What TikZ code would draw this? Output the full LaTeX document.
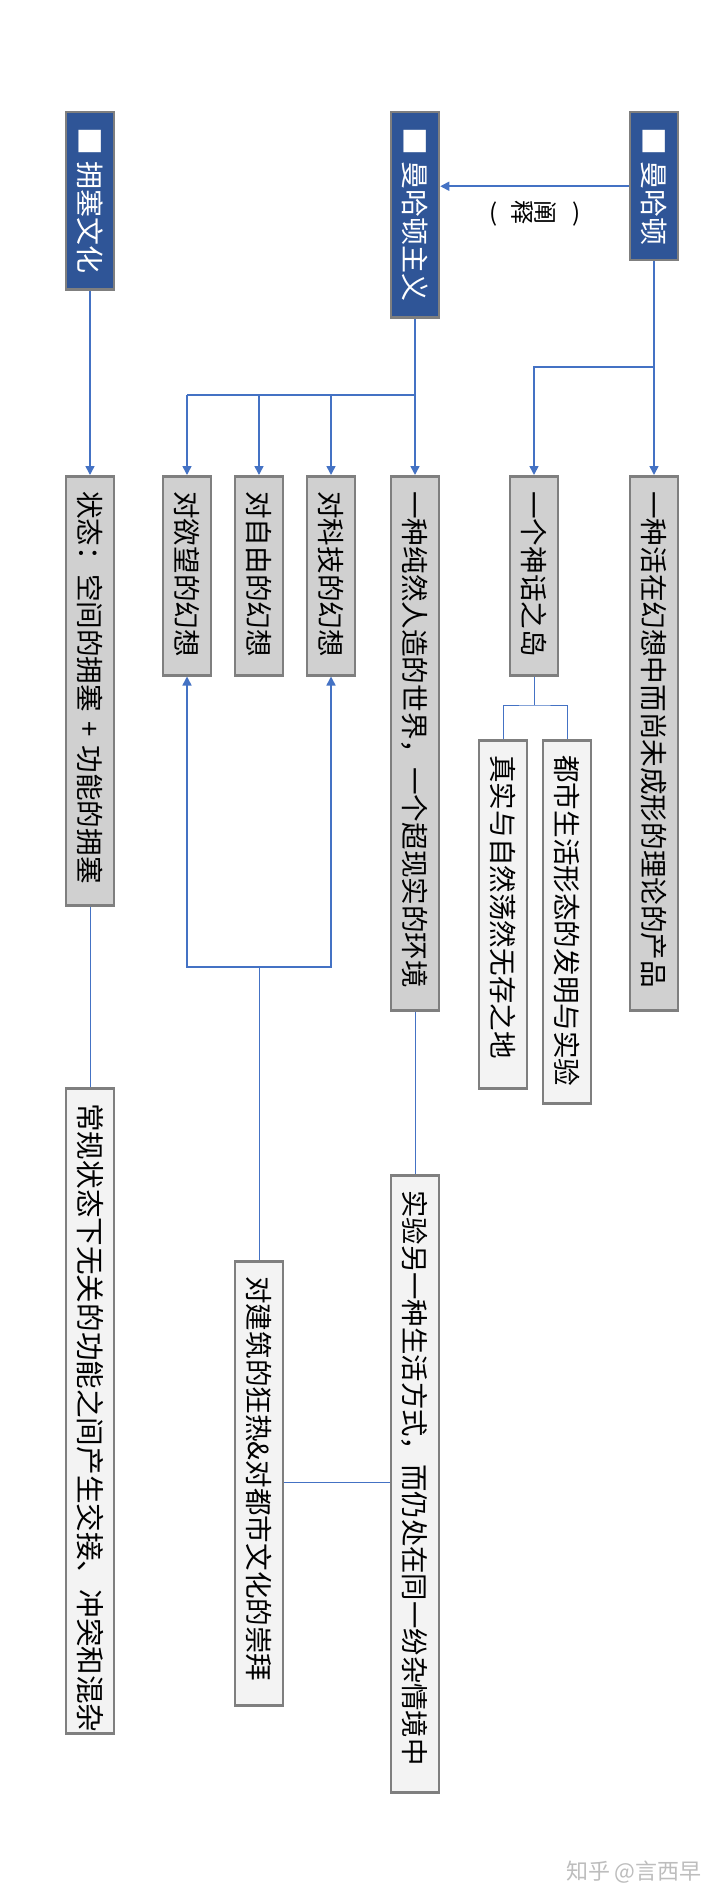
\documentclass[tikz,border=0pt]{standalone}
\usepackage{fontspec}
\newfontfamily\cjk{Noto Sans CJK SC}
\usetikzlibrary{arrows.meta}
\definecolor{hdrblue}{HTML}{2F5597}
\definecolor{bordergray}{HTML}{7F7F7F}
\definecolor{lvlgray}{HTML}{D0D0D0}
\definecolor{lvllight}{HTML}{F3F3F3}
\definecolor{linkblue}{HTML}{4472C4}
\definecolor{wmgray}{HTML}{BDBDBD}
\tikzset{
  boxbase/.style={draw=bordergray, line width=2.5pt, rotate=-90, anchor=west,
    minimum height=48pt, inner xsep=15pt, inner ysep=0pt, align=left,
    text height=21pt, text depth=0pt},
  hdrbox/.style={boxbase, fill=hdrblue, text=white, font=\cjk\fontsize{28}{30}\selectfont},
  lvltwo/.style={boxbase, fill=lvlgray, font=\cjk\fontsize{27.6}{30}\selectfont},
  lvlthree/.style={boxbase, fill=lvllight, font=\cjk\fontsize{27.6}{30}\selectfont},
  link/.style={draw=linkblue, line width=1.6pt},
  thinlink/.style={draw=linkblue, line width=1pt},
  arr/.style={-{Triangle[width=9pt,length=9pt]}},
}
\begin{document}
\begin{tikzpicture}[x=1pt,y=-1pt]
\fill[white] (0,0) rectangle (720,1902);
\useasboundingbox (0,0) rectangle (720,1902);

% headers
\node[hdrbox, text width=118pt] (hC) at (654,111) {\mbox{■\hspace{6pt}曼哈顿}};
\node[hdrbox, text width=175pt] (hB) at (415,111) {\mbox{■\hspace{6pt}曼哈顿主义}};
\node[hdrbox, text width=147pt] (hA) at (90,111) {\mbox{■\hspace{6pt}拥塞文化}};

% level two
\node[lvltwo, text width=504pt] (c1) at (654,475) {\mbox{一种活在幻想中而尚未成形的理论的产品}};
\node[lvltwo, text width=169pt] (c2) at (534,475) {\mbox{一个神话之岛}};
\node[lvltwo, text width=504pt] (b1) at (415,475) {\mbox{一种纯然人造的世界，一个超现实的环境}};
\node[lvltwo, text width=169pt] (b2) at (331,475) {\mbox{对科技的幻想}};
\node[lvltwo, text width=169pt] (b3) at (259,475) {\mbox{对自由的幻想}};
\node[lvltwo, text width=169pt] (b4) at (187,475) {\mbox{对欲望的幻想}};
\node[lvltwo, text width=399pt] (a1) at (90,475) {\mbox{状态：空间的拥塞 + 功能的拥塞}};

% level three
\node[lvlthree, text width=333pt] (d1) at (567,739) {\mbox{都市生活形态的发明与实验}};
\node[lvlthree, text width=318pt] (d2) at (503,739) {\mbox{真实与自然荡然无存之地}};
\node[lvlthree, text width=587pt, font=\cjk\fontsize{27.4}{30}\selectfont] (e1) at (415,1174) {\mbox{实验另一种生活方式，而仍处在同一纷杂情境中}};
\node[lvlthree, text width=414pt] (f1) at (259,1260) {\mbox{对建筑的狂热\&对都市文化的崇拜}};
\node[lvlthree, text width=615pt, font=\cjk\fontsize{28.6}{30}\selectfont] (g1) at (90,1087) {\mbox{常规状态下无关的功能之间产生交接、冲突和混杂}};

% label (rotated reading, as in the reference)
\node[inner sep=0pt, font=\cjk\fontsize{24}{27}\selectfont] (lbl) at (535,213)
  {\makebox[10pt]{(}\hspace{12pt}\makebox[23pt]{\rotatebox[origin=c]{-90}{释}}\makebox[23pt]{\rotatebox[origin=c]{-90}{阐}}\hspace{15pt}\makebox[10pt]{)}};

% watermark
\node[anchor=east, inner sep=0pt, text=wmgray, font=\cjk\fontsize{22}{24}\selectfont] (wm) at (702,1872) {知乎 @言西早};

% junction coordinates
\coordinate (brC) at (0,367);
\coordinate (brB) at (0,395);
\coordinate (jD) at (534,705);
\coordinate (jF) at (259,967);
\coordinate (hy) at (0,1482);

% connectors
\draw[link, arr] (hC.south) -- (hB.north |- hC.south);
\draw[link, arr] (hC.east) -- (c1.west);
\draw[link, arr] (hC.east |- brC) -| (c2.west);
\draw[link, arr] (hB.east) -- (b1.west);
\draw[link] (hB.east |- brB) -- (b4.west |- brB);
\draw[link, arr] (b2.west |- brB) -- (b2.west);
\draw[link, arr] (b3.west |- brB) -- (b3.west);
\draw[link, arr] (b4.west |- brB) -- (b4.west);
\draw[link, arr] (hA.east) -- (a1.west);

\draw[thinlink] (c2.east) -- (jD);
\draw[thinlink] (d2.west) |- (jD) -| (d1.west);
\draw[thinlink] (b1.east) -- (e1.west);
\draw[thinlink] (f1.west) -- (jF);
\draw[link, arr] (jF) -| (b2.east);
\draw[link, arr] (jF) -| (b4.east);
\draw[thinlink] (f1.north |- hy) -- (e1.south |- hy);
\draw[thinlink] (a1.east) -- (g1.west);
\end{tikzpicture}
\end{document}
